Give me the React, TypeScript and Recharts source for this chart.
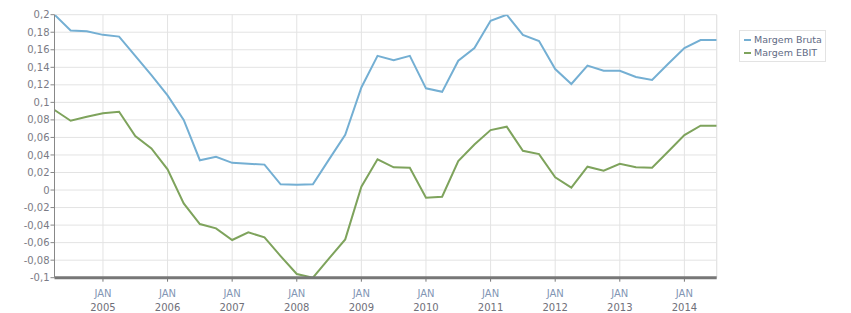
import { LineChart, Line, XAxis, YAxis, CartesianGrid, ReferenceLine } from 'recharts';

// quarterly points, Q2 2004 .. Q3 2014
const margemBruta = [
  0.2, 0.182, 0.181, 0.177, 0.175, 0.153, 0.131, 0.108, 0.08, 0.034,
  0.038, 0.031, 0.03, 0.029, 0.0065, 0.006, 0.0065, 0.035, 0.063, 0.117,
  0.153, 0.148, 0.153, 0.116, 0.112, 0.1475, 0.162, 0.193, 0.2, 0.177,
  0.17, 0.138, 0.121, 0.142, 0.136, 0.136, 0.129, 0.1255, 0.144, 0.162,
  0.171, 0.171,
];

const margemEbit = [
  0.0913, 0.079, 0.0836, 0.0875, 0.0893, 0.0616, 0.0475, 0.0236, -0.0152, -0.0388,
  -0.0437, -0.057, -0.0483, -0.054, -0.0753, -0.0958, -0.1, -0.078, -0.0563, 0.0038,
  0.035, 0.0259, 0.0255, -0.0088, -0.0076, 0.033, 0.052, 0.0684, 0.0722, 0.0448,
  0.041, 0.0145, 0.0027, 0.0266, 0.022, 0.03, 0.0259, 0.0255, 0.044, 0.0627,
  0.0734, 0.0734,
];

const seriesNames = ['Margem Bruta', 'Margem EBIT'];
const seriesColors = ['#74afd3', '#7ea35c'];

// January of each year sits at these quarter indices
const janTicks = [3, 7, 11, 15, 19, 23, 27, 31, 35, 39];
const janYears = ['2005', '2006', '2007', '2008', '2009', '2010', '2011', '2012', '2013', '2014'];

const yTicks = [
  -0.1, -0.08, -0.06, -0.04, -0.02, 0, 0.02, 0.04, 0.06, 0.08,
  0.1, 0.12, 0.14, 0.16, 0.18, 0.2,
];

const data = margemBruta.map((v, i) => ({ i, bruta: v, ebit: margemEbit[i] }));

const font = '"DejaVu Sans", Verdana, sans-serif';

const fmtY = (v: number) => Number(v.toFixed(2)).toString().replace('.', ',');

const XTick = ({ x, y, payload }: any) => {
  const k = janTicks.indexOf(payload.value);
  return (
    <g>
      <text x={x} y={y + 13} textAnchor="middle" fontSize={10} fontFamily={font} fill="#8296b4">
        JAN
      </text>
      <text x={x} y={y + 27} textAnchor="middle" fontSize={10} fontFamily={font} fill="#6f7079">
        {janYears[k]}
      </text>
    </g>
  );
};

export default function App() {
  return (
    <div style={{ position: 'absolute', left: 0, top: 0, width: 851, height: 313, background: '#fff' }}>
      <LineChart
        width={851}
        height={313}
        data={data}
        margin={{ top: 14.7, right: 134.3, bottom: 0, left: 0 }}
      >
        <CartesianGrid stroke="#e3e3e3" strokeWidth={1} />
        <ReferenceLine x={41} stroke="#e3e3e3" />
        <XAxis
          dataKey="i"
          type="number"
          domain={[0, 41]}
          ticks={janTicks}
          interval={0}
          height={35.3}
          tick={<XTick />}
          tickSize={4}
          tickLine={{ stroke: '#777' }}
          axisLine={{ stroke: '#777', strokeWidth: 3 }}
          allowDataOverflow
        />
        <YAxis
          type="number"
          domain={[-0.1, 0.2]}
          ticks={yTicks}
          interval={0}
          width={54.5}
          tickFormatter={fmtY}
          tickSize={4}
          tickMargin={1}
          tick={{ fontSize: 10, fontFamily: font, fill: '#7b7b85' }}
          tickLine={{ stroke: '#888' }}
          axisLine={{ stroke: '#888' }}
          allowDataOverflow
        />
        <Line
          dataKey="bruta"
          name={seriesNames[0]}
          stroke={seriesColors[0]}
          strokeWidth={2}
          dot={false}
          type="linear"
          isAnimationActive={false}
        />
        <Line
          dataKey="ebit"
          name={seriesNames[1]}
          stroke={seriesColors[1]}
          strokeWidth={2}
          dot={false}
          type="linear"
          isAnimationActive={false}
        />
      </LineChart>
      <div
        style={{
          position: 'absolute',
          left: 739,
          top: 30,
          border: '1px solid #e3e3e3',
          padding: '2px 3px 2px 4px',
          fontFamily: font,
          fontSize: 9.5,
          color: '#5f6b85',
          lineHeight: '13px',
        }}
      >
        {seriesNames.map((n, k) => (
          <div key={n} style={{ display: 'flex', alignItems: 'center' }}>
            <span style={{ width: 7, height: 2, background: seriesColors[k], marginRight: 3 }} />
            {n}
          </div>
        ))}
      </div>
    </div>
  );
}
